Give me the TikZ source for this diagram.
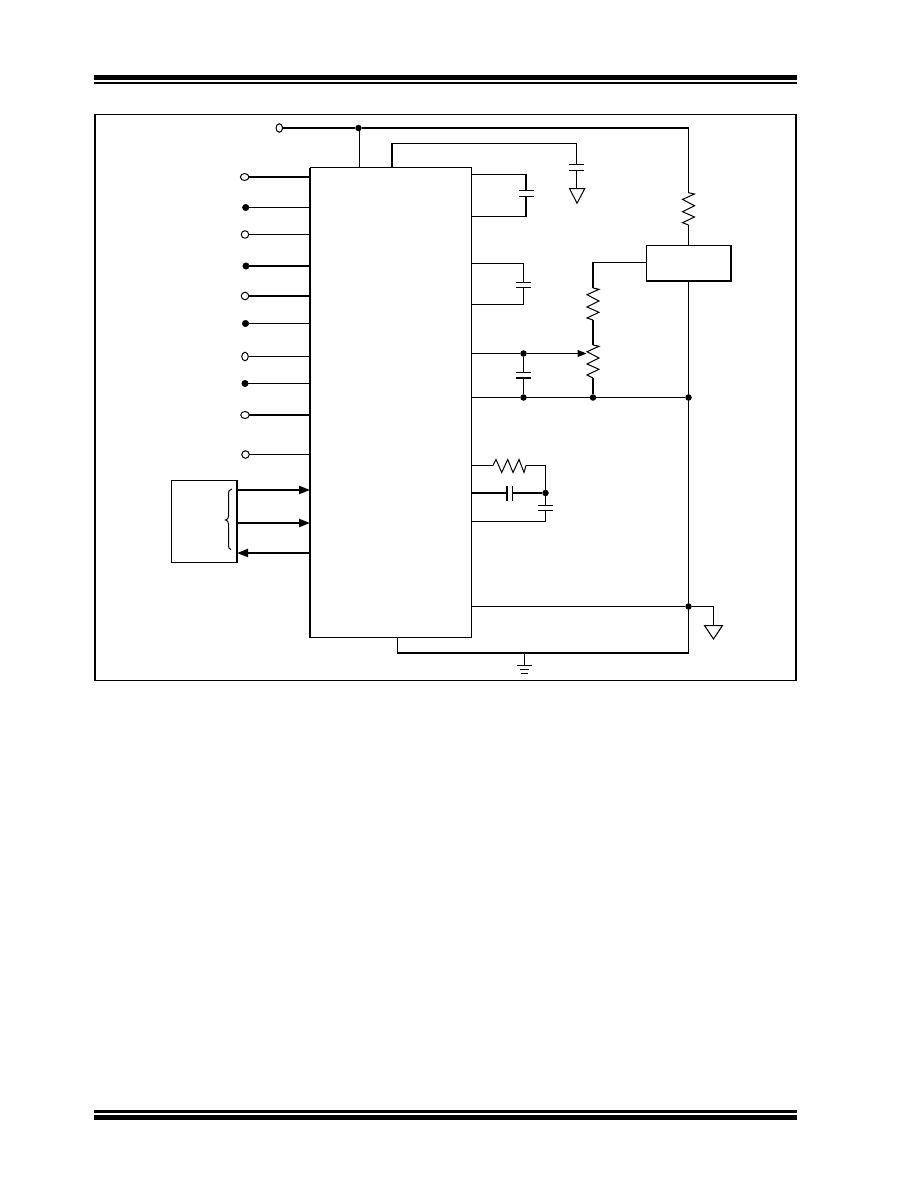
\documentclass[tikz,border=0pt]{standalone}
\usetikzlibrary{arrows.meta,shapes.geometric}
\tikzset{
  x=1pt,y=-1pt,
  thin wire/.style={line width=1pt,line cap=butt,line join=miter},
  thick wire/.style={line width=2pt,line cap=butt,line join=miter},
  plate/.style={line width=1pt},
  heavy plate/.style={line width=2pt},
  boxed/.style={draw,line width=1pt,rectangle,inner sep=0pt,outer sep=0pt},
  openpin/.style={draw,fill=white,line width=1pt,ellipse,inner sep=0pt,outer sep=0pt,minimum width=7.5pt,minimum height=7.5pt},
  widepin/.style={openpin,minimum width=8.5pt,minimum height=7pt},
  tallpin/.style={openpin,minimum width=6.5pt,minimum height=8.5pt},
  solidpin/.style={draw=black,fill=black,circle,inner sep=0pt,outer sep=0pt,minimum size=6.5pt},
  junction/.style={fill=black,circle,inner sep=0pt,outer sep=0pt,minimum size=6.5pt},
  big tip/.style={-{Triangle[length=11pt,width=8pt]}},
  rule bar/.style={fill=black,draw=none},
}
\newcommand{\zigv}[3]{% x, y-top, y-bottom (3 periods, start to the right)
  \draw[thin wire] (#1,#2) -- ++(6,1.3) -- ++(-12,5.4) -- ++(12,6.3) -- ++(-12,6) -- ++(12,5.3) -- ++(-12,5.7) -- (#1,#3);}
\newcommand{\zigh}[3]{% y, x-left, x-right
  \draw[thin wire] (#2,#1) -- ++(3,-6) -- ++(5.7,13) -- ++(6,-13) -- ++(5.3,13) -- ++(6,-13) -- ++(5,13) -- (#3,#1);}
\begin{document}
\begin{tikzpicture}
\useasboundingbox (0,0) rectangle (918,1188);
\fill[white] (0,0) rectangle (918,1188);
% page rules
\fill[rule bar] (94,75) rectangle (797,80);
\fill[rule bar] (94,82) rectangle (797,84);
\fill[rule bar] (94,1110) rectangle (797,1113);
\fill[rule bar] (94,1115) rectangle (797,1120);
% frame
\draw[line width=1pt] (95,114.5) rectangle (796,680.5);
\draw[line width=2pt] (95,114) -- (95,681);
\draw[line width=2pt] (796,114) -- (796,681);

% blocks
\node[boxed,minimum width=161pt,minimum height=470pt] (chip) at (390.5,402.5) {};
\draw[thick wire] (chip.north west) -- (chip.south west);
\node[boxed,minimum width=85pt,minimum height=36pt] (reg) at (688.5,263) {};
\draw[thick wire] (reg.north east) -- (reg.south east) -- (reg.south west);
\node[boxed,minimum width=66pt,minimum height=82pt] (host) at (204,521.5) {};
\draw[thick wire] (host.north east) -- (host.south east);

% supply
\node[tallpin] (vcc) at (279.3,128) {};
\node[junction] (jv) at (358.5,128) {};
\coordinate (vr) at (688.5,128);
\draw[thick wire] (vcc) -- (jv) -- (689,128);
\draw[thin wire] (359.5,128) -- (359.5,167.5);
\draw[thin wire] (vr) -- (688.5,192.7);
\zigv{688.5}{192.7}{225}
\draw[thin wire] (688.5,225) -- (688.5,245);
\draw[thin wire] (688.5,281) -- (688.5,653);

% left pins
\foreach \n/\y/\sty/\wire/\x in {
  a/177/widepin/thick wire/244.6,
  b/207.5/solidpin/thin wire/245.7,
  c/234.5/openpin/thin wire/245,
  d/266/solidpin/thick wire/246,
  e/296/openpin/thick wire/245,
  f/323.5/solidpin/thin wire/245.5,
  g/356.5/tallpin/thin wire/245,
  h/383.5/solidpin/thin wire/245,
  i/415/widepin/thick wire/245,
  j/454.5/openpin/thin wire/245.5}{
  \node[\sty] (pin\n) at (\x,\y) {};
  \draw[\wire] (pin\n) -- (pin\n -| chip.west);
}

% host arrows and brace
\coordinate (a1) at (237,490);
\coordinate (a2) at (237,523);
\coordinate (a3) at (237,553);
\draw[thick wire,big tip] (a1) -- (a1 -| chip.west);
\draw[thick wire,big tip] (a2) -- (a2 -| chip.west);
\draw[thick wire,big tip] (a3 -| chip.west) -- (a3);
\draw[line width=1pt] (232,489) .. controls (229,489.5) and (228.5,491) .. (228.5,494) -- (228.5,516) .. controls (228.5,518.5) and (227.5,519.5) .. (225.5,520) .. controls (227.5,520.5) and (228.5,521.5) .. (228.5,524) -- (228.5,545) .. controls (228.5,548) and (229,549) .. (231,549.5);

% top-right capacitor to triangle
\coordinate (t1) at (392,143.5);
\coordinate (t2) at (576.5,143.5);
\draw[thick wire] (392,167.5) -- (392,143);
\draw[thin wire] (t1) -- (t2) -- (576.5,164.5);
\draw[plate] (569,164.5) -- (584,164.5);
\draw[plate] (569,170.5) -- (584,170.5);
\draw[thin wire] (576.5,170.5) -- (576.5,188.5);
\draw[line width=1pt,line join=miter] (569.5,188.5) -- (584.8,188.5) -- (577,203.3) -- cycle;

% cap 1
\coordinate (c1a) at (526,174.5);
\coordinate (c1b) at (526,216.5);
\draw[thin wire] (c1a -| chip.east) -- (c1a);
\draw[thin wire] (c1b -| chip.east) -- (c1b);
\draw[thick wire] (526,174) -- (526,190.5);
\draw[thick wire] (526,196.5) -- (526,217);
\draw[plate] (519,190.5) -- (534,190.5);
\draw[plate] (519,196.5) -- (534,196.5);

% cap 2
\coordinate (c2a) at (523.5,263.5);
\coordinate (c2b) at (523.5,304.5);
\draw[thin wire] (c2a -| chip.east) -- (c2a) -- (523.5,282.5);
\draw[thin wire] (c2b -| chip.east) -- (c2b) -- (523.5,287.5);
\draw[plate] (516,282.5) -- (531,282.5);
\draw[plate] (516,287.5) -- (531,287.5);

% pot network
\node[junction] (j1) at (523.5,353.5) {};
\node[junction] (j2) at (523.5,397.5) {};
\node[junction] (j3) at (593,397.5) {};
\node[junction] (j4) at (688.5,397.5) {};
\draw[thin wire] (j1 -| chip.east) -- (j1);
\draw[thin wire,-{Triangle[length=9pt,width=7pt]}] (j1) -- (586.5,353.5);
\draw[thin wire] (j2 -| chip.east) -- (j2) -- (j3) -- (j4);
\draw[thin wire] (j1) -- (523.5,372.5);
\draw[plate] (516,372.5) -- (531,372.5);
\draw[heavy plate] (516,378) -- (531,378);
\draw[thin wire] (523.5,378) -- (j2);
\coordinate (w1) at (593,262.5);
\draw[thin wire] (w1) -- (w1 -| reg.west);
\draw[thick wire] (593,262) -- (593,288);
\zigv{593}{288}{320}
\draw[thick wire] (593,320) -- (593,345);
\zigv{593}{345}{378}
\draw[thick wire] (593,378) -- (j3);

% RC network
\node[junction] (j5) at (545.5,493) {};
\coordinate (r1) at (493,465.5);
\coordinate (r2) at (526,465.5);
\coordinate (r3) at (545.5,465.5);
\coordinate (r4) at (545.5,521.5);
\draw[thin wire] (r1 -| chip.east) -- (r1);
\zigh{465.5}{493}{526}
\draw[thin wire] (r2) -- (r3) -- (j5);
\draw[thick wire] (j5 -| chip.east) -- (507,493);
\draw[thick wire] (512.5,493) -- (j5);
\draw[heavy plate] (507,485.7) -- (507,501);
\draw[plate] (512.5,485.7) -- (512.5,501);
\draw[plate] (538,505.5) -- (553,505.5);
\draw[plate] (538,510.5) -- (553,510.5);
\draw[thin wire] (j5) -- (545.5,505.5);
\draw[thin wire] (545.5,510.5) -- (r4) -- (r4 -| chip.east);

% ground legs
\node[junction] (j6) at (688.5,606.5) {};
\coordinate (g1) at (713.5,606.5);
\draw[thin wire] (j6 -| chip.east) -- (j6) -- (g1) -- (713.5,625.5);
\draw[line width=1pt,line join=miter] (704.5,625.5) -- (722.5,625.5) -- (713.5,639) -- cycle;
\coordinate (b1) at (397.5,653);
\draw[thin wire] (397.5,637) -- (b1);
\draw[thick wire] (397,653) -- (689,653);
\draw[thin wire] (524.5,653) -- (524.5,665.5);
\draw[plate] (517,665.5) -- (532,665.5);
\draw[plate] (520,669.5) -- (529,669.5);
\draw[plate] (521,673.5) -- (528,673.5);
\end{tikzpicture}
\end{document}
